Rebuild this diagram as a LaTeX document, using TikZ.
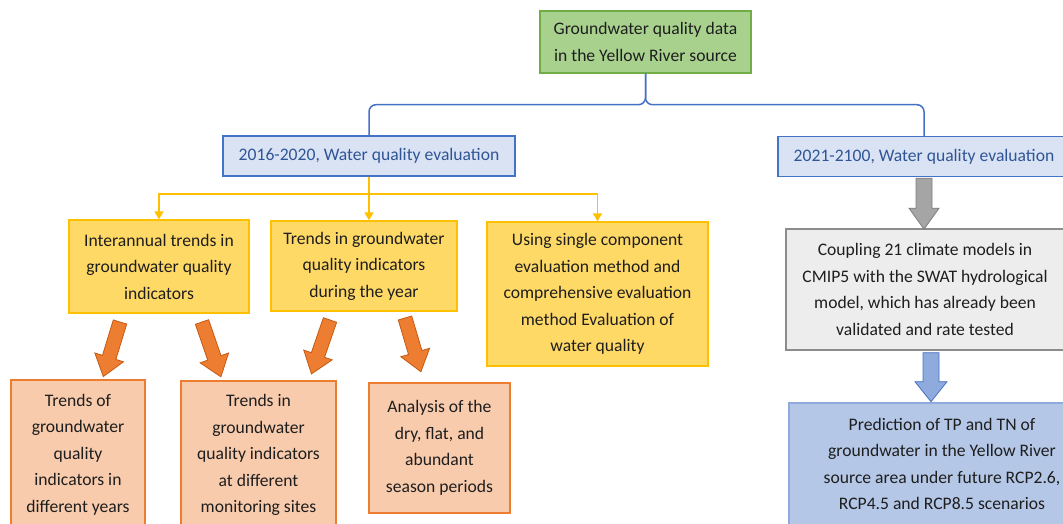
\documentclass[tikz,border=0pt]{standalone}
\usepackage{fontspec}
\setmainfont{Carlito}
\usetikzlibrary{arrows.meta,calc}
\definecolor{gfill}{HTML}{A9D18E}
\definecolor{gdraw}{HTML}{70AD47}
\definecolor{bfill}{HTML}{DAE3F3}
\definecolor{bdraw}{HTML}{4472C4}
\definecolor{btext}{HTML}{2F5597}
\definecolor{yfill}{HTML}{FFD966}
\definecolor{ydraw}{HTML}{FFC000}
\definecolor{ofill}{HTML}{F8CBAD}
\definecolor{odraw}{HTML}{ED7D31}
\definecolor{oarrow}{HTML}{ED7D31}
\definecolor{oarrowd}{HTML}{C65911}
\definecolor{grfill}{HTML}{EDEDED}
\definecolor{grdraw}{HTML}{8C8C8C}
\definecolor{grarrow}{HTML}{A5A5A5}
\definecolor{grarrowd}{HTML}{7F7F7F}
\definecolor{pfill}{HTML}{B4C7E7}
\definecolor{pdraw}{HTML}{8FAADC}
\definecolor{parrow}{HTML}{8FAADC}
\definecolor{txt}{HTML}{1E1E1E}
\newcommand{\blockarrow}[7]{%
  \begin{scope}[shift={#2}, rotate=#3]
    \draw[#1] (0,-#5) -- (#4-#7,-#5) -- (#4-#7,-#6) -- (#4,0) -- (#4-#7,#6) -- (#4-#7,#5) -- (0,#5) -- cycle;
  \end{scope}}
\begin{document}
\begin{tikzpicture}[x=1pt,y=-1pt,
  box/.style={draw, line width=1.4pt, align=center, inner sep=0pt, text=txt,
    font=\fontsize{17.6}{26.5}\selectfont},
  greenbox/.style={box, fill=gfill, draw=gdraw},
  evalbox/.style={box, fill=bfill, draw=bdraw, text=btext},
  ybox/.style={box, fill=yfill, draw=ydraw},
  obox/.style={box, fill=ofill, draw=odraw},
  gbox/.style={box, fill=grfill, draw=grdraw},
  pbox/.style={box, fill=pfill, draw=pdraw},
  bl/.style={draw=bdraw, line width=1.5pt},
  yl/.style={draw=ydraw, line width=1.6pt},
  ya/.style={yl, -{Triangle[width=9pt,length=8pt]}},
  oarr/.style={fill=oarrow, draw=oarrowd, line width=0.8pt, line join=miter},
  grarr/.style={fill=grarrow, draw=grarrowd, line width=0.8pt},
  parr/.style={fill=parrow, draw=bdraw, line width=0.8pt}
]
\useasboundingbox (0,0) rectangle (1063,524);
\fill[white] (0,0) rectangle (1063,524);

\node[greenbox, minimum width=211pt, minimum height=62pt] (top) at (645.5,42)
  {Groundwater quality data\\in the Yellow River source};
\node[evalbox, minimum width=292pt, minimum height=40pt] (eval1) at (369,156)
  {2016-2020, Water quality evaluation};
\node[evalbox, minimum width=292pt, minimum height=40pt] (eval2) at (924,156.5)
  {2021-2100, Water quality evaluation};

\node[ybox, minimum width=180pt, minimum height=93pt] (y1) at (159,266.5)
  {Interannual trends in\\groundwater quality\\indicators};
\node[ybox, minimum width=186pt, minimum height=90pt] (y2) at (364,266)
  {Trends in groundwater\\quality indicators\\during the year};
\node[ybox, minimum width=221pt, minimum height=144pt] (y3) at (597.5,294)
  {Using single component\\evaluation method and\\comprehensive evaluation\\method Evaluation of\\water quality};

\node[obox, minimum width=134pt, minimum height=149pt] (o1) at (78,454.5)
  {Trends of\\groundwater\\quality\\indicators in\\different years};
\node[obox, minimum width=155pt, minimum height=148pt] (o2) at (258.5,455)
  {Trends in\\groundwater\\quality indicators\\at different\\monitoring sites};
\node[obox, minimum width=141pt, minimum height=130pt] (o3) at (439.5,448)
  {Analysis of the\\dry, flat, and\\abundant\\season periods};

\node[gbox, minimum width=278pt, minimum height=121pt] (gray) at (925,289.5)
  {Coupling 21 climate models in\\CMIP5 with the SWAT hydrological\\model, which has already been\\validated and rate tested};
\node[pbox, minimum width=306pt, minimum height=122pt] (pred) at (942,464)
  {Prediction of TP and TN of\\groundwater in the Yellow River\\source area under future RCP2.6,\\RCP4.5 and RCP8.5 scenarios};

% blue brace
\draw[bl, rounded corners=7pt] (eval1.north) |- ($(top.south)+(0,31)$) -- (top.south);
\draw[bl, rounded corners=7pt] (eval2.north) |- ($(top.south)+(0,31)$) -- (top.south);

% yellow connectors
\draw[yl] (eval1.south) -- ++(0,17) coordinate (ys);
\draw[ya] (ys) -| (y1.north);
\draw[ya] (ys) -- (y2.north -| ys);
\draw[ya] (ys) -| (y3.north);

% orange block arrows
\blockarrow{oarr}{(120,322)}{-107}{57}{7}{15}{20}
\blockarrow{oarr}{(202,322)}{-71}{58}{7}{15}{20}
\blockarrow{oarr}{(330,320)}{-109}{57}{7}{15}{20}
\blockarrow{oarr}{(405,318)}{-73.5}{56}{7}{15}{20}

% gray and blue block arrows
\blockarrow{grarr}{($(eval2.south)+(0,1)$)}{-90}{51}{8}{15}{21}
\blockarrow{parr}{($(gray.south)+(6,2)$)}{-90}{49}{8}{16}{20}
\end{tikzpicture}
\end{document}
